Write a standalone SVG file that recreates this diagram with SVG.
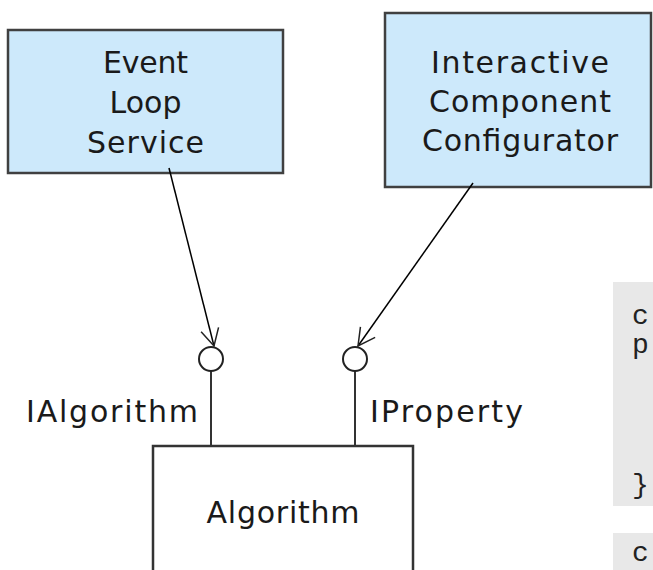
<svg xmlns="http://www.w3.org/2000/svg" width="653" height="570" viewBox="0 0 653 570">
<style>
.box{fill:#cde9fb;stroke:#404040;stroke-width:2.5}
.wbox{fill:#ffffff;stroke:#333333;stroke-width:2.5}
.lbl{font-family:"DejaVu Sans",sans-serif;font-size:30px;fill:#1a1a1a;text-anchor:middle}
.ll{font-family:"DejaVu Sans",sans-serif;font-size:30px;fill:#1a1a1a}
.code{font-family:"Liberation Mono","Courier New",monospace;font-size:28px;fill:#222222}
.conn{stroke:#000;stroke-width:1.5;fill:none}
.stem{stroke:#333;stroke-width:2;fill:none}
.lolly{fill:#fff;stroke:#222;stroke-width:2}
</style>
<defs>
<marker id="open" markerWidth="24" markerHeight="24" refX="20" refY="12" orient="auto" markerUnits="userSpaceOnUse">
<path d="M3,3 L20,12 L3,21" fill="none" stroke="#222" stroke-width="1.5"/>
</marker>
</defs>
<rect width="653" height="570" fill="#ffffff"/>
<g id="code-panel">
<rect x="613" y="282" width="45" height="224" fill="#e8e8e8"/>
<rect x="613" y="533" width="45" height="45" fill="#e8e8e8"/>
<text class="code" x="632" y="324">c</text>
<text class="code" x="632" y="353">p</text>
<text class="code" x="632" y="493">}</text>
<text class="code" x="632" y="561">c</text>
</g>
<g id="event-loop-service">
<rect class="box" x="8" y="30" width="275" height="143"/>
<text class="lbl" x="145.5" y="73" textLength="85">Event</text>
<text class="lbl" x="145.5" y="113">Loop</text>
<text class="lbl" x="145.5" y="153" textLength="117">Service</text>
</g>
<g id="interactive-component-configurator">
<rect class="box" x="385" y="13" width="266" height="174"/>
<text class="lbl" x="520" y="73" textLength="178">Interactive</text>
<text class="lbl" x="520" y="112" textLength="182">Component</text>
<text class="lbl" x="520" y="151" textLength="196">Configurator</text>
</g>
<g id="algorithm">
<rect class="wbox" x="153" y="446" width="260" height="140"/>
<text class="lbl" x="283" y="523" textLength="153">Algorithm</text>
</g>
<g id="ialgorithm">
<line class="stem" x1="211" y1="371" x2="211" y2="446"/>
<circle class="lolly" cx="211" cy="359" r="12"/>
<text class="ll" x="26" y="422" textLength="172">IAlgorithm</text>
</g>
<g id="iproperty">
<line class="stem" x1="355" y1="371" x2="355" y2="446"/>
<circle class="lolly" cx="355" cy="359" r="12"/>
<text class="ll" x="370" y="422" textLength="153">IProperty</text>
</g>
<g id="connectors">
<line class="conn" x1="169" y1="168" x2="214" y2="346" marker-end="url(#open)"/>
<line class="conn" x1="473" y1="183" x2="358" y2="346" marker-end="url(#open)"/>
</g>
</svg>
